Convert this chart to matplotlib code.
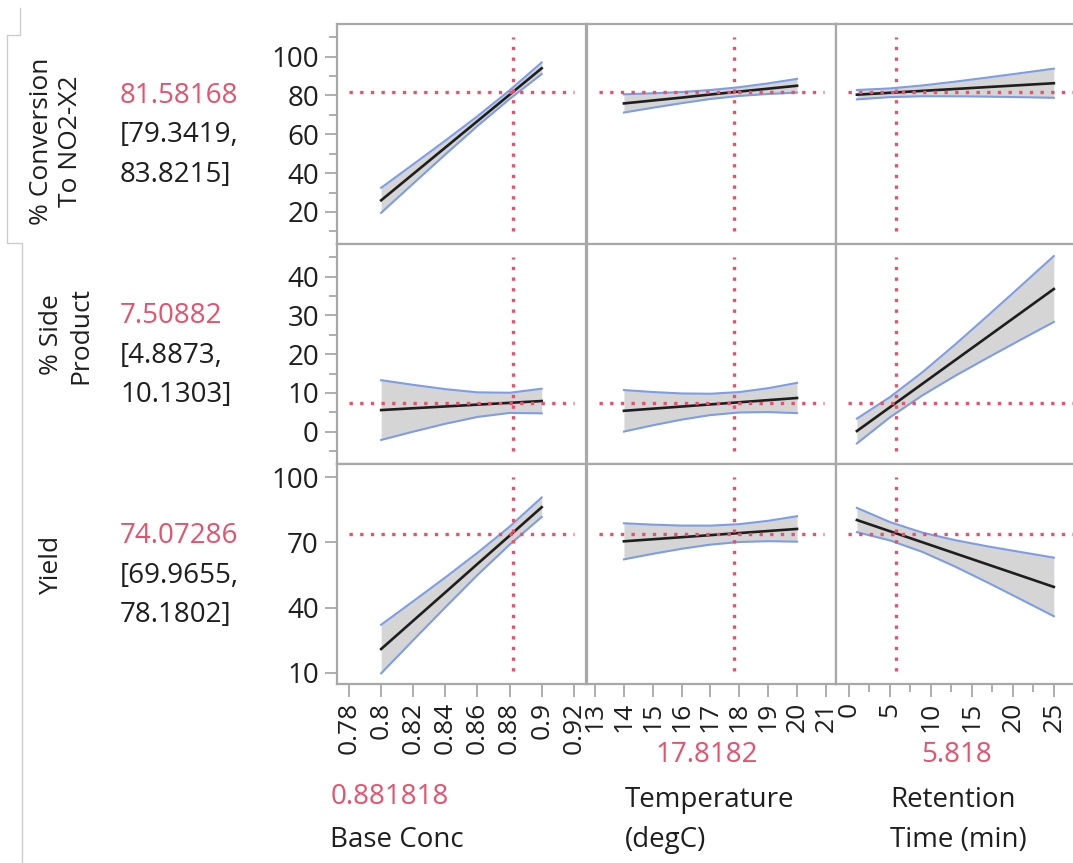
import matplotlib
matplotlib.use('Agg')
import matplotlib.pyplot as plt
from matplotlib.lines import Line2D

plt.rcParams['font.family'] = ['Open Sans', 'DejaVu Sans']

# ---------------- data ----------------
responses = ['% Conversion\nTo NO2-X2', '% Side\nProduct', 'Yield']
resp_values = ['81.58168', '7.50882', '74.07286']
resp_ci_low = ['[79.3419,', '[4.8873,', '[69.9655,']
resp_ci_high = ['83.8215]', '10.1303]', '78.1802]']
crosshair_y = [81.58168, 7.50882, 74.07286]

factor_values = ['0.881818', '17.8182', '5.818']
crosshair_x = [0.881818, 17.8182, 5.818]

base_conc_x = [0.80, 0.82, 0.84, 0.86, 0.88, 0.90]
temp_x = [14, 15, 16, 17, 18, 19, 20]
ret_x = [1, 5, 9, 13, 17, 21, 25]

# % Conversion
conv_base_mean = [26.0, 39.6, 53.2, 66.8, 80.4, 94.0]
conv_base_hw = [6.45, 4.96, 3.58, 2.51, 2.24, 2.99]
conv_temp_mean = [75.9, 77.4, 78.9, 80.5, 82.0, 83.5, 85.0]
conv_temp_hw = [4.7, 3.72, 2.87, 2.31, 2.25, 2.73, 3.54]
conv_ret_mean = [80.4, 81.38, 82.37, 83.35, 84.34, 85.32, 86.3]
conv_ret_hw = [2.43, 2.23, 2.79, 3.78, 4.95, 6.21, 7.5]
# % Side Product
side_base_mean = [5.6, 6.07, 6.53, 7.0, 7.46, 7.93]
side_base_hw = [7.7, 6.03, 4.46, 3.17, 2.6, 3.17]
side_temp_mean = [5.41, 5.96, 6.51, 7.06, 7.61, 8.16, 8.71]
side_temp_hw = [5.35, 4.29, 3.37, 2.75, 2.63, 3.08, 3.9]
side_ret_mean = [0.2, 6.3, 12.4, 18.5, 24.6, 30.7, 36.8]
side_ret_hw = [3.2, 2.61, 2.98, 4.05, 5.43, 6.93, 8.5]
# Yield
yield_base_mean = [20.9, 33.96, 47.0, 60.1, 73.1, 86.2]
yield_base_hw = [11.2, 8.96, 6.88, 5.12, 4.14, 4.49]
yield_temp_mean = [70.5, 71.45, 72.4, 73.35, 74.3, 75.25, 76.2]
yield_temp_hw = [8.3, 6.72, 5.34, 4.37, 4.11, 4.69, 5.86]
yield_ret_mean = [80.3, 75.17, 70.04, 64.9, 59.77, 54.64, 49.5]
yield_ret_hw = [5.6, 4.23, 4.45, 6.1, 8.37, 10.9, 13.5]

factor_x = [base_conc_x, temp_x, ret_x]
means = [[conv_base_mean, conv_temp_mean, conv_ret_mean],
         [side_base_mean, side_temp_mean, side_ret_mean],
         [yield_base_mean, yield_temp_mean, yield_ret_mean]]
hws = [[conv_base_hw, conv_temp_hw, conv_ret_hw],
       [side_base_hw, side_temp_hw, side_ret_hw],
       [yield_base_hw, yield_temp_hw, yield_ret_hw]]

x_major = [[0.78, 0.80, 0.82, 0.84, 0.86, 0.88, 0.90, 0.92],
           [13, 14, 15, 16, 17, 18, 19, 20, 21],
           [0, 5, 10, 15, 20, 25]]
x_labels = [['0.78', '0.8', '0.82', '0.84', '0.86', '0.88', '0.9', '0.92'],
            ['13', '14', '15', '16', '17', '18', '19', '20', '21'],
            ['0', '5', '10', '15', '20', '25']]
x_minor = [[], [], [2.5, 7.5, 12.5, 17.5, 22.5, 27.5]]
y_major = [[20, 40, 60, 80, 100], [0, 10, 20, 30, 40], [10, 40, 70, 100]]
y_minor = [[10, 30, 50, 70, 90, 110], [-5, 5, 15, 25, 35, 45], []]

xlims = [(0.7725, 0.9276), (12.72, 21.35), (-1.55, 28.8)]
ylims = [(3.5, 116.8), (-8.3, 48.4), (4.8, 106.1)]

# ---------------- style ----------------
W, H = 1073, 863
RED = '#e8506c'
DARK = '#1e1e1e'
SPINE = '#a8a8a8'
BAND = '#d5d5d5'
BLUE = '#7d9de6'
FS = 20


def fx(px):
    return px / W


def fy(py):
    return 1 - py / H


fig = plt.figure(figsize=(W / 100, H / 100), dpi=100)

col_left = [337, 587, 836]
col_w = 249
row_top = [24, 244, 464]
row_h = 220

for r in range(3):
    for c in range(3):
        ax = fig.add_axes([fx(col_left[c]), fy(row_top[r] + row_h), col_w / W, row_h / H])
        xs = factor_x[c]
        m = means[r][c]
        h = hws[r][c]
        lo = [a - b for a, b in zip(m, h)]
        hi = [a + b for a, b in zip(m, h)]
        ax.fill_between(xs, lo, hi, color=BAND, lw=0, zorder=1)
        ax.plot(xs, lo, color=BLUE, lw=1.5, zorder=2)
        ax.plot(xs, hi, color=BLUE, lw=1.5, zorder=2)
        ax.plot(xs, m, color=DARK, lw=1.9, zorder=3)
        # crosshair
        ax.plot([crosshair_x[c]] * 2, [0.06, 0.94], transform=ax.get_xaxis_transform(),
                color=RED, lw=2.4, ls=(0, (1, 2.2)), zorder=4)
        ax.plot([0.05, 0.95], [crosshair_y[r]] * 2, transform=ax.get_yaxis_transform(),
                color=RED, lw=2.4, ls=(0, (1, 2.2)), zorder=4)
        ax.set_xlim(*xlims[c])
        ax.set_ylim(*ylims[r])
        for s in ax.spines.values():
            s.set_color(SPINE)
            s.set_linewidth(1.6)
        ax.tick_params(which='both', direction='out', color=SPINE, width=1.3,
                       labelcolor=DARK, labelsize=FS, pad=4)
        ax.tick_params(which='major', length=9)
        ax.tick_params(which='minor', length=5.5)
        ax.tick_params(axis='x', labelsize=19)
        if c == 0:
            ax.set_yticks(y_major[r])
            ax.set_yticks(y_minor[r], minor=True)
        else:
            ax.set_yticks([])
            ax.set_yticks([], minor=True)
        if r == 2:
            ax.set_xticks(x_major[c])
            ax.set_xticklabels(x_labels[c], rotation=90)
            ax.set_xticks(x_minor[c], minor=True)
        else:
            ax.set_xticks([])
            ax.set_xticks([], minor=True)

# response labels and current values
row_label_y = [141, 335, 565]
row_label_x = [56, 66, 52]
val_y = [96, 316, 536]
for r in range(3):
    fig.text(fx(row_label_x[r]), fy(row_label_y[r]), responses[r], rotation=90,
             ha='center', va='center', multialignment='center', fontsize=19,
             color=DARK, linespacing=1.2)
    fig.text(fx(120), fy(val_y[r]), resp_values[r], ha='left', va='center',
             fontsize=FS, color=RED)
    fig.text(fx(120), fy(val_y[r] + 39.5), resp_ci_low[r], ha='left', va='center',
             fontsize=FS, color=DARK)
    fig.text(fx(120), fy(val_y[r] + 79), resp_ci_high[r], ha='left', va='center',
             fontsize=FS, color=DARK)

# factor labels
fig.text(fx(390), fy(797), factor_values[0], ha='center', va='center', fontsize=FS, color=RED)
fig.text(fx(397), fy(840), 'Base Conc', ha='center', va='center', fontsize=FS, color=DARK)
fig.text(fx(707), fy(755), factor_values[1], ha='center', va='center', fontsize=FS, color=RED)
fig.text(fx(625), fy(800), 'Temperature', ha='left', va='center', fontsize=FS, color=DARK)
fig.text(fx(625), fy(840), '(degC)', ha='left', va='center', fontsize=FS, color=DARK)
fig.text(fx(957), fy(755), factor_values[2], ha='center', va='center', fontsize=FS, color=RED)
fig.text(fx(890), fy(800), 'Retention', ha='left', va='center', fontsize=FS, color=DARK)
fig.text(fx(890), fy(840), 'Time (min)', ha='left', va='center', fontsize=FS, color=DARK)

# left outline tab
px_x = [20, 20, 7, 7, 22, 22]
px_y = [8, 35, 35, 243, 243, 863]
fig.add_artist(Line2D([fx(v) for v in px_x], [fy(v) for v in px_y], color='#cccccc', lw=1.0))

fig.savefig('out.png', dpi=100)
